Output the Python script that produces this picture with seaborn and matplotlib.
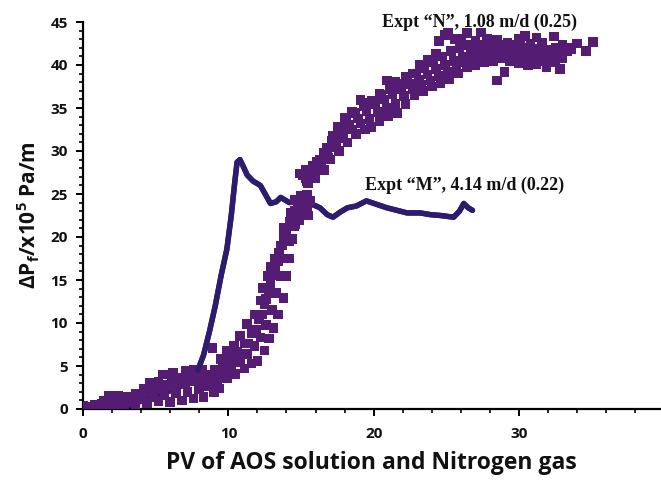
import matplotlib
matplotlib.use("Agg")
import matplotlib.pyplot as plt
from matplotlib.ticker import MultipleLocator
import seaborn as sns
import pandas as pd

# Expt "M" (line)
m_pv = [1.6, 2.5, 3.2, 4.0, 5.0, 6.0, 7.0, 7.5, 7.9, 8.3, 8.7, 9.1, 9.5, 9.9, 10.2,
        10.45, 10.6, 10.8, 11.0, 11.3, 11.7, 12.2, 12.6, 12.9, 13.3, 13.6, 14.2, 14.8,
        15.5, 16.3, 16.8, 17.2, 17.7, 18.2, 18.8, 19.5, 20.2, 20.9, 21.6, 22.3, 23.2,
        23.9, 24.6, 25.5, 25.9, 26.2, 26.5, 26.8]
m_dp = [0.0, 0.1, 0.4, 0.9, 1.5, 2.1, 2.8, 3.4, 4.5, 6.3, 9.0, 12.0, 15.5, 18.6, 22.5,
        26.5, 28.7, 29.0, 28.3, 27.2, 26.5, 26.0, 24.8, 23.9, 24.1, 24.6, 24.0, 24.2,
        24.0, 23.4, 22.6, 22.3, 22.9, 23.4, 23.6, 24.2, 23.8, 23.4, 23.1, 22.8, 22.8,
        22.6, 22.5, 22.3, 23.0, 23.9, 23.4, 23.1]

# Expt "N" (scatter) - several tracks across the band
n_upper_pv = [0.0, 0.8, 1.4, 1.8, 2.4, 3.0, 3.6, 4.2, 4.6, 5.2, 5.5, 6.2, 6.6, 7.1, 7.6,
              8.2, 8.9, 9.5, 9.9, 10.4, 10.8, 11.3, 11.8, 12.2, 12.4, 12.7, 12.9, 13.2,
              13.6, 13.8, 14.3, 14.6, 15.0, 15.4, 15.6,
              14.9, 15.3, 15.8, 16.3, 16.8, 17.2, 17.5, 18.0, 18.5, 19.1, 19.7, 20.4,
              20.9, 21.5, 22.2, 22.7, 23.2, 23.7, 24.3, 24.5, 25.1, 25.6, 26.4, 27.0,
              27.8, 28.5, 29.2, 30.0, 30.8, 31.6, 32.4, 33.0, 34.0, 35.1]
n_upper_dp = [0.4, 0.5, 1.0, 1.5, 1.5, 1.4, 1.8, 2.4, 3.0, 3.2, 4.0, 4.2, 3.6, 4.4, 4.5,
              4.6, 7.1, 5.8, 6.8, 7.4, 8.5, 9.9, 11.0, 12.6, 14.1, 15.5, 16.5, 17.5,
              19.0, 21.1, 22.8, 24.3, 24.8, 24.9, 24.2,
              27.4, 27.8, 28.3, 29.0, 30.4, 31.8, 32.8, 33.9, 34.5, 35.9, 35.6, 36.7,
              38.2, 38.0, 38.6, 39.0, 40.0, 40.6, 41.3, 42.8, 43.7, 43.0, 43.7, 42.8,
              43.0, 42.9, 42.6, 43.0, 42.5, 42.6, 43.3, 42.3, 42.5, 42.7]
n_a_pv = [0.6, 1.3, 1.9, 2.5, 3.1, 3.7, 4.3, 4.9, 5.5, 6.1, 6.7, 7.3, 7.9, 8.5, 9.1,
          9.6, 10.1, 10.6, 11.1, 11.6, 12.1, 12.5, 12.8, 13.1, 13.4, 13.7, 14.0, 14.4,
          14.8, 15.2,
          15.1, 15.6, 16.1, 16.6, 17.1, 17.6, 18.1, 18.7, 19.3, 19.9, 20.5, 21.1, 21.7,
          22.3, 22.9, 23.5, 24.1, 24.7, 25.3, 25.9, 26.5, 27.1, 27.7, 28.3, 28.9, 29.5,
          30.1, 30.7, 31.3, 31.9, 32.5, 33.1, 33.6]
n_a_dp = [0.3, 0.6, 1.2, 1.3, 1.2, 1.5, 2.0, 2.5, 2.8, 3.2, 3.4, 3.6, 3.8, 4.0, 4.6,
          5.2, 5.8, 6.6, 7.6, 8.8, 10.5, 12.2, 13.8, 15.6, 17.2, 19.0, 20.8, 22.3,
          23.8, 24.2,
          27.2, 27.8, 28.8, 29.8, 31.2, 32.4, 33.4, 34.4, 35.2, 35.8, 36.5, 37.2, 37.8,
          38.4, 39.0, 39.6, 40.3, 41.0, 41.6, 42.0, 42.3, 42.3, 42.4, 42.4, 42.3, 42.4,
          42.2, 42.0, 41.9, 41.8, 42.0, 42.0, 41.8]
n_mid_pv = [0.3, 1.0, 1.6, 2.2, 2.8, 3.4, 4.0, 4.6, 5.2, 5.8, 6.4, 7.0, 7.6, 8.2, 8.8,
            9.4, 9.9, 10.4, 10.9, 11.4, 11.9, 12.3, 12.6, 12.9, 13.2, 13.5, 13.8, 14.2,
            14.6, 15.0, 15.4,
            15.3, 15.8, 16.3, 16.8, 17.3, 17.8, 18.3, 18.9, 19.5, 20.1, 20.7, 21.3,
            21.9, 22.5, 23.1, 23.7, 24.3, 24.9, 25.5, 26.1, 26.7, 27.3, 27.9, 28.5,
            29.1, 29.7, 30.3, 30.9, 31.5, 32.1, 32.7, 33.3]
n_mid_dp = [0.1, 0.2, 0.9, 1.0, 0.9, 1.2, 1.6, 2.0, 2.3, 2.6, 2.8, 3.0, 3.2, 3.4, 3.6,
            4.0, 4.8, 5.5, 6.4, 7.6, 9.2, 11.0, 12.8, 14.5, 16.3, 18.2, 20.0, 21.8,
            23.0, 23.6, 23.3,
            26.8, 27.5, 28.5, 29.5, 30.8, 32.0, 33.0, 33.8, 34.6, 35.4, 36.0, 36.6,
            37.2, 37.8, 38.3, 38.9, 39.5, 40.0, 40.5, 40.9, 41.2, 41.5, 41.6, 41.8,
            41.9, 41.7, 41.5, 41.4, 41.2, 41.0, 41.3, 41.6]
n_b_pv = [0.7, 1.5, 2.4, 3.2, 4.0, 4.8, 5.6, 6.4, 7.2, 8.0, 8.6, 9.2, 9.7, 10.2, 10.8,
          11.3, 11.8, 12.2, 12.6, 13.0, 13.3, 13.6, 13.9, 14.2, 14.5, 14.8, 15.2,
          15.4, 15.9, 16.4, 16.9, 17.4, 17.9, 18.5, 19.1, 19.7, 20.3, 20.9, 21.5, 22.1,
          22.7, 23.3, 23.9, 24.5, 25.1, 25.7, 26.3, 26.9, 27.5, 28.1, 28.7, 29.3, 29.9,
          30.5, 31.1, 31.7, 32.3, 32.9]
n_b_dp = [0.0, 0.5, 0.6, 0.8, 1.1, 1.4, 1.6, 1.8, 2.0, 2.3, 2.6, 3.0, 4.2, 4.8, 5.5,
          6.4, 7.3, 8.3, 9.8, 11.5, 13.5, 15.5, 17.5, 19.5, 21.3, 22.6, 23.0,
          26.5, 27.2, 28.2, 29.2, 30.4, 31.5, 32.5, 33.2, 33.7, 34.5, 35.0, 35.5, 36.4,
          37.2, 37.7, 38.2, 38.7, 39.2, 39.8, 40.3, 40.6, 40.9, 41.1, 41.3, 41.2, 40.9,
          40.7, 40.6, 40.4, 40.6, 41.0]
n_lower_pv = [1.2, 2.0, 2.8, 3.6, 4.4, 5.2, 6.0, 6.8, 7.6, 8.3, 9.0, 9.4, 9.9, 10.5,
              11.1, 11.6, 12.0, 12.5, 12.8, 13.1, 13.4, 13.8, 14.0, 14.2, 14.4, 14.6,
              14.9, 15.5,
              15.5, 16.0, 16.6, 17.0, 17.6, 18.2, 18.8, 19.4, 19.8, 20.4, 21.0, 21.6,
              22.2, 22.8, 23.4, 24.0, 24.6, 25.2, 25.8, 26.4, 27.0, 27.6, 28.2, 28.8,
              29.4, 30.0, 30.6, 31.2, 31.9, 32.5, 33.0, 28.5]
n_lower_dp = [0.0, 0.3, 0.5, 0.6, 0.7, 0.9, 0.8, 1.0, 1.2, 1.4, 1.9, 2.4, 3.6, 4.1,
              4.7, 5.3, 5.6, 6.8, 8.2, 9.4, 11.0, 12.9, 15.5, 17.5, 19.8, 21.5,
              22.0, 22.5,
              26.3, 26.8, 27.8, 29.0, 30.0, 31.0, 32.0, 32.5, 32.8, 33.5, 34.0, 34.4,
              35.5, 36.5, 37.0, 37.5, 37.9, 38.4, 39.0, 39.7, 40.0, 40.3, 40.5, 40.8,
              40.5, 40.2, 40.0, 40.1, 39.7, 40.3, 40.8, 38.2]
n_extra_pv = [24.9, 27.4, 31.2, 33.6, 34.6, 29.0, 32.8, 26.0, 30.4]
n_extra_dp = [43.5, 43.8, 43.2, 42.0, 41.6, 39.2, 39.5, 43.1, 43.4]

x_major_ticks = [0, 10, 20, 30]
label_n = "Expt \u201cN\u201d, 1.08 m/d (0.25)"
label_m = "Expt \u201cM\u201d, 4.14 m/d (0.22)"

color_m = "#2d1b70"
color_n = "#541c72"

sns.set_theme(style="ticks")
plt.rcParams["font.family"] = ["Open Sans", "DejaVu Sans"]
plt.rcParams["mathtext.fontset"] = "custom"
plt.rcParams["mathtext.rm"] = "Open Sans:bold"
plt.rcParams["mathtext.it"] = "Open Sans:bold"
plt.rcParams["mathtext.bf"] = "Open Sans:bold"

df_n = pd.DataFrame({
    "pv": n_upper_pv + n_a_pv + n_mid_pv + n_b_pv + n_lower_pv + n_extra_pv,
    "dp": n_upper_dp + n_a_dp + n_mid_dp + n_b_dp + n_lower_dp + n_extra_dp,
})
df_m = pd.DataFrame({"pv": m_pv, "dp": m_dp})

fig = plt.figure(figsize=(6.61, 4.82), dpi=100)
ax = fig.add_axes([83 / 661, 1 - 409 / 482, (660 - 83) / 661, (409 - 22) / 482])

sns.scatterplot(data=df_n, x="pv", y="dp", ax=ax, marker="s", s=48,
                color=color_n, edgecolor="none", linewidth=0, zorder=3)
sns.lineplot(data=df_m, x="pv", y="dp", ax=ax, sort=False, color=color_m,
             linewidth=3.9, zorder=2, estimator=None)
# blue line above the band where it rises out of it
rise = df_m[(df_m.pv > 7.7)]
sns.lineplot(data=rise, x="pv", y="dp", ax=ax, sort=False, color=color_m,
             linewidth=3.9, zorder=3.5, estimator=None)
# purple squares drawn over the M line in the crossing region
cross = df_n[(df_n.pv > 14.0) & (df_n.pv < 16.0) & (df_n.dp < 26) & (df_n.dp > 20)]
sns.scatterplot(data=cross, x="pv", y="dp", ax=ax, marker="s", s=48,
                color=color_n, edgecolor="none", linewidth=0, zorder=4)

ax.set_xlim(0, 39.7)
ax.set_ylim(0, 45)
ax.set_xticks(x_major_ticks)
ax.xaxis.set_minor_locator(MultipleLocator(2))
ax.yaxis.set_major_locator(MultipleLocator(5))
ax.yaxis.set_minor_locator(MultipleLocator(1))

for s in ["top", "right"]:
    ax.spines[s].set_visible(False)
for s in ["left", "bottom"]:
    ax.spines[s].set_color("black")
    ax.spines[s].set_linewidth(1.6)

ax.tick_params(axis="both", which="major", direction="out", length=5, width=1.4,
               color="black", labelsize=11, labelcolor="#111111")
ax.tick_params(axis="both", which="minor", direction="out", length=3, width=1.2,
               color="black")
ax.tick_params(axis="x", which="major", pad=8)
ax.tick_params(axis="y", which="major", pad=6)
for lab in ax.get_xticklabels() + ax.get_yticklabels():
    lab.set_fontweight("bold")

ax.set_xlabel("PV of AOS solution and Nitrogen gas", fontsize=16.5, fontweight="bold",
              color="#111111", labelpad=7)
ax.set_ylabel("\u0394P$_{f}$/x10$^{5}$ Pa/m", fontsize=15, fontweight="bold",
              color="#111111", labelpad=6)

ax.text(20.6, 45.0, label_n, family="Liberation Serif", fontweight="bold",
        fontsize=13, color="#111111", ha="left", va="center", clip_on=False)
ax.text(19.4, 26.0, label_m, family="Liberation Serif", fontweight="bold",
        fontsize=13, color="#111111", ha="left", va="center", clip_on=False)

fig.savefig("out.png", dpi=100)
